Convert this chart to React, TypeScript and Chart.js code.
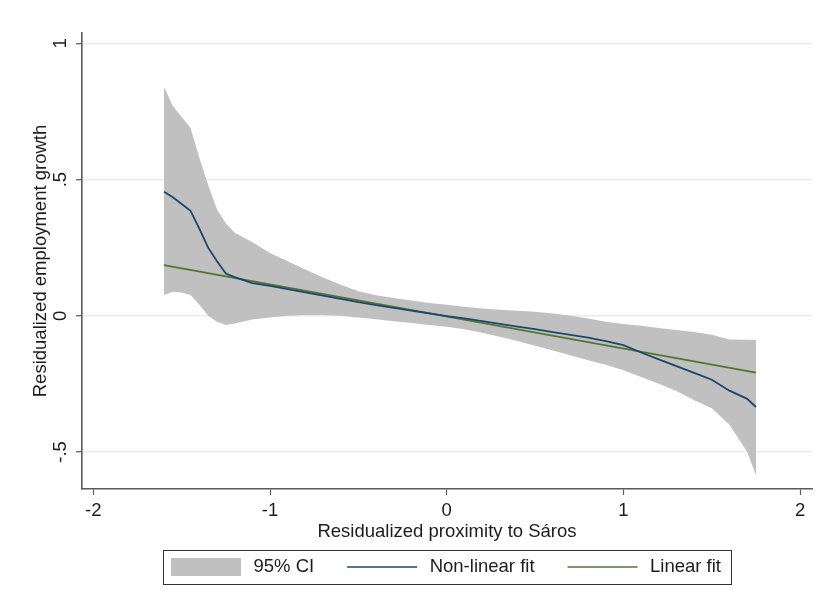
import { useEffect, useRef } from "react";
import { Chart, registerables } from "chart.js";

Chart.register(...registerables);

// Evaluation grid of the smoothed fit and its confidence band
const gridX = [
  -1.6, -1.55, -1.5, -1.45, -1.4, -1.35, -1.3, -1.25, -1.2, -1.1, -1.0, -0.9, -0.8, -0.7,
  -0.6, -0.5, -0.4, -0.3, -0.2, -0.1, 0, 0.1, 0.2, 0.3, 0.4, 0.5, 0.6, 0.7, 0.8, 0.9, 1.0,
  1.1, 1.2, 1.3, 1.4, 1.5, 1.6, 1.7, 1.75,
];
const ciUpper = [
  0.84, 0.77, 0.73, 0.69, 0.58, 0.48, 0.39, 0.34, 0.305, 0.27, 0.23, 0.2, 0.17, 0.14,
  0.114, 0.09, 0.075, 0.065, 0.056, 0.047, 0.04, 0.033, 0.027, 0.022, 0.018, 0.015, 0.008,
  0.0, -0.01, -0.022, -0.03, -0.037, -0.045, -0.052, -0.06, -0.07, -0.087, -0.088, -0.089,
];
const ciLower = [
  0.076, 0.088, 0.085, 0.076, 0.04, 0.0, -0.022, -0.034, -0.028, -0.014, -0.006, 0.0, 0.003,
  0.003, 0.0, -0.006, -0.013, -0.02, -0.027, -0.034, -0.04, -0.05, -0.062, -0.077, -0.093,
  -0.11, -0.128, -0.145, -0.163, -0.18, -0.2, -0.225, -0.25, -0.276, -0.31, -0.34, -0.4,
  -0.5, -0.585,
];
const nonLinearFit = [
  0.455, 0.435, 0.41, 0.385, 0.32, 0.25, 0.2, 0.155, 0.142, 0.12, 0.11, 0.098, 0.086, 0.074,
  0.062, 0.05, 0.039, 0.029, 0.019, 0.009, -0.001, -0.01, -0.02, -0.03, -0.04, -0.049, -0.06,
  -0.07, -0.08, -0.093, -0.108, -0.135, -0.16, -0.185, -0.21, -0.235, -0.275, -0.305, -0.335,
];

// Straight-line fit, given by its two end points
const linearX = [-1.6, 1.75];
const linearY = [0.186, -0.209];

// Axes
const xTicks = [-2, -1, 0, 1, 2];
const xTickLabels = ["-2", "-1", "0", "1", "2"];
const yTicks = [-0.5, 0, 0.5, 1];
const yTickLabels = ["-.5", "0", ".5", "1"];
const xTitle = "Residualized proximity to Sáros";
const yTitle = "Residualized employment growth";
const legendLabels = ["95% CI", "Non-linear fit", "Linear fit"];

const FONT = "'Liberation Sans', Arial, Helvetica, sans-serif";
const TEXT = "#1c1c1c";
const AXIS = "#5a5a5a";
const GRID = "#e2eef2";
const BAND = "#c0c0c0";
const NAVY = "#1a476f";
const GREEN = "#55752f";

// Boxed legend below the x-axis title
const boxedLegend = {
  id: "boxedLegend",
  afterDraw(chart: any) {
    const { ctx, chartArea } = chart;
    ctx.save();
    ctx.font = `18.5px ${FONT}`;
    const widths = legendLabels.map((t) => ctx.measureText(t).width);
    const sample = 70;
    const gapText = 12.5;
    const gapItem = 33;
    const padL = 8;
    const padR = 10;
    const total =
      padL + padR + 3 * (sample + gapText) + widths[0] + widths[1] + widths[2] + 2 * gapItem;
    const cx = (chartArea.left + chartArea.right) / 2;
    const left = Math.round(cx - total / 2);
    const top = chartArea.bottom + 61;
    const h = 34;
    const midY = top + 17;

    ctx.fillStyle = "#ffffff";
    ctx.fillRect(left, top, total, h);
    ctx.strokeStyle = "#333333";
    ctx.lineWidth = 1;
    ctx.strokeRect(left + 0.5, top + 0.5, total, h);

    let x = left + padL;
    ctx.fillStyle = BAND;
    ctx.fillRect(x, top + 8, sample, 18);
    x += sample + gapText;
    ctx.fillStyle = TEXT;
    ctx.textBaseline = "middle";
    ctx.textAlign = "left";
    ctx.fillText(legendLabels[0], x, midY);
    x += widths[0] + gapItem;

    const lineColors = [NAVY, GREEN];
    for (let i = 1; i < 3; i++) {
      ctx.strokeStyle = lineColors[i - 1];
      ctx.lineWidth = 1.6;
      ctx.beginPath();
      ctx.moveTo(x, midY);
      ctx.lineTo(x + sample, midY);
      ctx.stroke();
      x += sample + gapText;
      ctx.fillStyle = TEXT;
      ctx.fillText(legendLabels[i], x, midY);
      x += widths[i] + gapItem;
    }
    ctx.restore();
  },
};

export default function App() {
  const canvasRef = useRef<HTMLCanvasElement | null>(null);

  useEffect(() => {
    if (!canvasRef.current) return;
    const font = { family: FONT, size: 18.5 };

    const chart = new Chart(canvasRef.current, {
      type: "line",
      data: {
        datasets: [
          {
            label: legendLabels[1],
            data: gridX.map((x, i) => ({ x, y: nonLinearFit[i] })),
            borderColor: NAVY,
            borderWidth: 1.8,
            pointRadius: 0,
            fill: false,
          },
          {
            label: legendLabels[2],
            data: linearX.map((x, i) => ({ x, y: linearY[i] })),
            borderColor: GREEN,
            borderWidth: 1.8,
            pointRadius: 0,
            fill: false,
          },
          {
            label: legendLabels[0],
            data: gridX.map((x, i) => ({ x, y: ciUpper[i] })),
            borderColor: "rgba(0,0,0,0)",
            borderWidth: 0,
            backgroundColor: BAND,
            pointRadius: 0,
            fill: "+1",
          },
          {
            label: "lower bound",
            data: gridX.map((x, i) => ({ x, y: ciLower[i] })),
            borderColor: "rgba(0,0,0,0)",
            borderWidth: 0,
            pointRadius: 0,
            fill: false,
          },
        ],
      },
      options: {
        animation: false,
        responsive: true,
        maintainAspectRatio: false,
        layout: { padding: { left: 0, top: 33, right: 10, bottom: 0 } },
        plugins: {
          legend: { display: false },
          tooltip: { enabled: false },
          filler: { drawTime: "beforeDatasetsDraw" },
        } as any,
        scales: {
          x: {
            type: "linear",
            min: -2.064,
            max: 2.067,
            afterBuildTicks: (s: any) => {
              s.ticks = xTicks.map((v) => ({ value: v }));
            },
            afterFit: (s: any) => {
              s.height = 119;
            },
            ticks: {
              autoSkip: false,
              minRotation: 0,
              maxRotation: 0,
              padding: 5,
              font,
              color: TEXT,
              callback: (v: any) => {
                const i = xTicks.indexOf(Number(v));
                return i >= 0 ? xTickLabels[i] : "";
              },
            },
            grid: {
              drawOnChartArea: false,
              drawTicks: true,
              tickLength: 6,
              tickColor: AXIS,
              tickWidth: 1.2,
            },
            border: { color: AXIS, width: 1.6 },
            title: {
              display: true,
              text: xTitle,
              font,
              color: TEXT,
              padding: { top: 0, bottom: 65 },
            },
          },
          y: {
            type: "linear",
            min: -0.636,
            max: 1.038,
            afterBuildTicks: (s: any) => {
              s.ticks = yTicks.map((v) => ({ value: v }));
            },
            afterFit: (s: any) => {
              s.width = 82;
            },
            ticks: {
              autoSkip: false,
              minRotation: 90,
              maxRotation: 90,
              crossAlign: "center",
              padding: 4,
              font,
              color: TEXT,
              callback: (v: any) => {
                const i = yTicks.indexOf(Number(v));
                return i >= 0 ? yTickLabels[i] : "";
              },
            },
            grid: {
              color: GRID,
              lineWidth: 1.5,
              tickLength: 6,
              tickColor: AXIS,
              tickWidth: 1.2,
            },
            border: { color: AXIS, width: 1.6 },
            title: {
              display: true,
              text: yTitle,
              font,
              color: TEXT,
              padding: { top: 30, bottom: 0 },
            },
          },
        },
      } as any,
      plugins: [boxedLegend],
    });

    return () => chart.destroy();
  }, []);

  return (
    <div
      style={{
        position: "fixed",
        left: 0,
        top: 0,
        width: 822,
        height: 608,
        background: "#ffffff",
      }}
    >
      <canvas ref={canvasRef} />
    </div>
  );
}
